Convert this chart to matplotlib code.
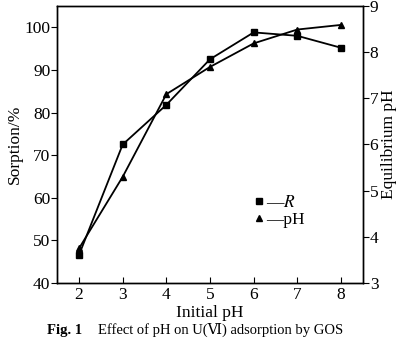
import matplotlib
matplotlib.use("Agg")
import matplotlib.pyplot as plt
from matplotlib.lines import Line2D

# data
initial_ph = [2, 3, 4, 5, 6, 7, 8]
sorption = [46.6, 72.5, 81.8, 92.5, 98.8, 98.0, 95.2]
equilibrium_ph = [3.75, 5.30, 7.09, 7.68, 8.19, 8.49, 8.59]

plt.rcParams['font.family'] = ['Liberation Serif', 'DejaVu Serif', 'DejaVu Sans']
plt.rcParams['mathtext.fontset'] = 'stix'

fs = 12.5

fig = plt.figure(figsize=(4.0, 3.52), dpi=100)
ax = fig.add_axes([0.143, 0.196, 0.764, 0.787])
ax2 = ax.twinx()

ax.plot(initial_ph, sorption, color='black', lw=1.3, marker='s', ms=4.5)
ax2.plot(initial_ph, equilibrium_ph, color='black', lw=1.3, marker='^', ms=4.5)

ax.set_xlim(1.5, 8.5)
ax.set_ylim(40, 105)
ax2.set_ylim(3, 9)
ax.set_xticks(initial_ph)
ax.set_yticks([40, 50, 60, 70, 80, 90, 100])
ax2.set_yticks([3, 4, 5, 6, 7, 8, 9])

ax.tick_params(axis='x', direction='in', labelsize=fs, length=4, pad=3)
ax.tick_params(axis='y', direction='out', labelsize=fs, length=4, pad=1)
ax2.tick_params(axis='y', direction='out', labelsize=fs, length=4, pad=1)

ax.set_xlabel('Initial pH', fontsize=fs, labelpad=1)
ax.set_ylabel('Sorption/%', fontsize=fs, labelpad=1)
ax2.set_ylabel('Equilibrium pH', fontsize=fs, labelpad=2)

for a in (ax, ax2):
    for s in a.spines.values():
        s.set_linewidth(1.0)

handles = [Line2D([], [], color='black', marker='s', ls='none', ms=4.5),
           Line2D([], [], color='black', marker='^', ls='none', ms=4.5)]
ax.legend(handles, ['\u2014$\\mathit{R}$', '\u2014pH'], frameon=False, fontsize=fs,
          loc='upper left', bbox_to_anchor=(0.615, 0.35), handlelength=0.6,
          handletextpad=0.1, labelspacing=0.05, borderpad=0)

fig.text(0.118, 0.062, 'Fig. 1', fontsize=10.5, fontweight='bold', va='center')
fig.text(0.245, 0.062, 'Effect of pH on U(\u2165) adsorption by GOS', fontsize=10.5, va='center')

fig.savefig('out.png', dpi=100)
